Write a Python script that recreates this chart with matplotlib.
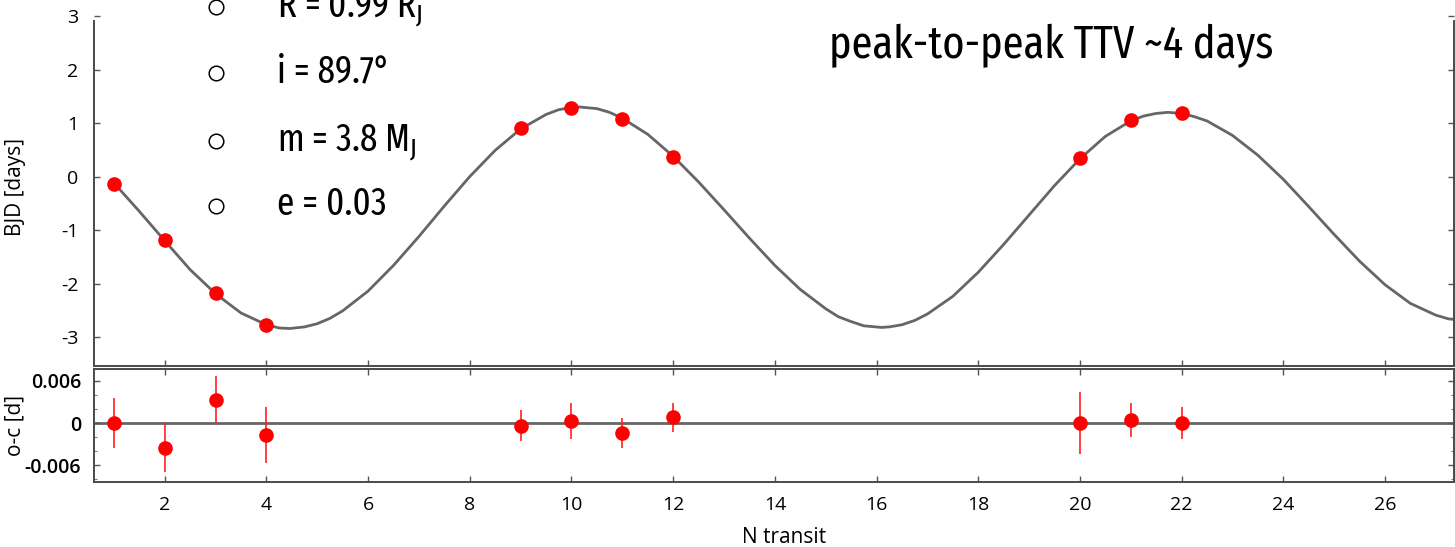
import numpy as np
import matplotlib
matplotlib.use("Agg")
import matplotlib.pyplot as plt
from matplotlib import font_manager
from matplotlib.font_manager import FontProperties
from matplotlib.ticker import MultipleLocator

# observed transits (top panel) and O-C residuals (bottom panel)
transit_n = [1, 2, 3, 4, 9, 10, 11, 12, 20, 21, 22]
bjd_ttv = [-0.14, -1.19, -2.17, -2.78, 0.90, 1.29, 1.07, 0.36, 0.34, 1.05, 1.18]
oc_resid = [0.0, -0.0035, 0.0033, -0.0017, -0.0004, 0.0003, -0.0014, 0.0008, 0.0, 0.0004, 0.0]
oc_err = [0.0035, 0.0035, 0.0033, 0.0040, 0.0022, 0.0026, 0.0021, 0.0021, 0.0044, 0.0024, 0.0022]

# model curve (denser near the turning points)
model_n = [1.0, 1.5, 2.0, 2.5, 3.0, 3.5, 4.0, 4.25, 4.46, 4.75,
           5.0, 5.25, 5.5, 6.0, 6.5, 7.0, 7.5, 8.0, 8.5, 9.0,
           9.5, 9.75, 10.0, 10.16, 10.5, 10.75, 11.0, 11.5, 12.0, 12.5,
           13.0, 13.5, 14.0, 14.5, 15.0, 15.25, 15.5, 15.75, 16.1, 16.25,
           16.5, 16.75, 17.0, 17.5, 18.0, 18.5, 19.0, 19.5, 20.0, 20.5,
           21.0, 21.25, 21.5, 21.73, 22.0, 22.25, 22.5, 23.0, 23.5, 24.0,
           24.5, 25.0, 25.5, 26.0, 26.5, 27.0, 27.25, 27.5]
model_ttv = [-0.12, -0.65, -1.20, -1.74, -2.19, -2.55, -2.77, -2.83, -2.84, -2.81,
             -2.75, -2.65, -2.51, -2.14, -1.66, -1.12, -0.55, 0.00, 0.49, 0.89,
             1.16, 1.25, 1.29, 1.30, 1.27, 1.20, 1.09, 0.79, 0.38, -0.10,
             -0.62, -1.15, -1.66, -2.11, -2.47, -2.62, -2.71, -2.79, -2.82, -2.81,
             -2.77, -2.69, -2.57, -2.24, -1.79, -1.27, -0.72, -0.17, 0.33, 0.75,
             1.04, 1.13, 1.18, 1.20, 1.18, 1.12, 1.04, 0.77, 0.40, -0.05,
             -0.56, -1.08, -1.58, -2.02, -2.37, -2.59, -2.66, -2.68]

params = ["R = 0.99 R$_\\mathregular{J}$", "i = 89.7°",
          "m = 3.8 M$_\\mathregular{J}$", "e = 0.03"]
headline = "peak-to-peak TTV ~4 days"


def condensed_font():
    """Pick the narrowest regular-weight face installed, else a plain sans."""
    best = None
    for f in font_manager.fontManager.ttflist:
        if f.style != "normal":
            continue
        key = (f.name + " " + f.fname).lower().replace(" ", "").replace("-", "")
        if "extracondensed" in key or "ultracondensed" in key:
            rank = 0
        elif "semicondensed" in key:
            rank = 2
        elif "condensed" in key or "narrow" in key or f.stretch == "condensed":
            rank = 1
        else:
            continue
        w = f.weight if isinstance(f.weight, int) else 400
        score = rank * 1000 + abs(w - 430)
        if best is None or score < best[0]:
            best = (score, f.fname)
    if best is not None:
        return FontProperties(fname=best[1])
    return FontProperties(family="Liberation Sans")


plt.rcParams.update({
    "font.family": ["Open Sans", "DejaVu Sans"],
    "axes.unicode_minus": False,
    "xtick.labelsize": 14,
    "ytick.labelsize": 14,
})

fig = plt.figure(figsize=(14.55, 5.47), dpi=100)
ax_top = fig.add_axes([0.0643, 0.330, 0.9347, 0.670])
ax_bot = fig.add_axes([0.0643, 0.1188, 0.9347, 0.2057], sharex=ax_top)

spine_col = "#4a4a4a"
for ax in (ax_top, ax_bot):
    for s in ax.spines.values():
        s.set_color(spine_col)
        s.set_linewidth(1.4)
    ax.tick_params(direction="in", length=4, width=1, color="#555555",
                   top=True, right=True)
    ax.tick_params(which="minor", direction="in", length=2.5, width=0.8,
                   color="#777777", right=True, left=True)

# top panel
ax_top.plot(model_n, model_ttv, color="#666666", linewidth=2.0, zorder=2)
ax_top.plot(transit_n, bjd_ttv, "o", color="#ff0000", markersize=9.5, zorder=3)
ax_top.set_xlim(0.6, 27.35)
ax_top.set_ylim(-3.55, 3.3)
ax_top.set_yticks([-3, -2, -1, 0, 1, 2, 3])
ax_top.spines["top"].set_visible(False)
ax_top.spines["left"].set_bounds(-3.55, 2.9)
ax_top.spines["right"].set_bounds(-3.55, 2.9)
ax_top.tick_params(axis="x", labelbottom=False, top=False)
ax_top.tick_params(axis="y", pad=11)
ax_top.set_ylabel("BJD [days]", fontsize=15)
ax_top.yaxis.set_label_coords(-0.050, 0.49)

# bottom panel
ax_bot.axhline(0, color="#666666", linewidth=2.0, zorder=1)
ax_bot.errorbar(transit_n, oc_resid, yerr=oc_err, fmt="o", color="#ff0000",
                ecolor="#ff2020", elinewidth=1.2, markersize=9.5, capsize=0, zorder=3)
ax_bot.set_ylim(-0.00837, 0.00759)
ax_bot.set_yticks([-0.006, 0, 0.006])
ax_bot.set_yticklabels(["-0.006", "0", "0.006"], fontweight="semibold", fontsize=14)
ax_bot.yaxis.set_minor_locator(MultipleLocator(0.002))
ax_bot.xaxis.set_major_locator(MultipleLocator(2))
ax_bot.tick_params(axis="y", pad=9)
ax_bot.tick_params(axis="x", pad=10)
ax_bot.set_ylabel("o-c [d]", fontsize=15)
ax_bot.yaxis.set_label_coords(-0.050, 0.5)
ax_bot.set_xlabel("N transit", fontsize=15)
ax_bot.xaxis.set_label_coords(0.508, -0.40)

# overlay annotations in a narrow face, sized to the widths seen in the original
fp = condensed_font()
title_txt = fig.text(0.5698, 0.894, headline, fontproperties=fp, fontsize=33,
                     va="baseline", ha="left")
base_y = [0.9707, 0.8501, 0.7258, 0.6069]
bullet_txts = []
for txt, yb in zip(params, base_y):
    t = fig.text(0.1904, yb, txt, fontproperties=fp, fontsize=26,
                 va="baseline", ha="left")
    bullet_txts.append(t)
    fig.add_artist(plt.Line2D([0.1485], [yb + 0.016], marker="o", markersize=10.5,
                              markerfacecolor="white", markeredgecolor="black",
                              markeredgewidth=1.1, transform=fig.transFigure))

renderer = fig.canvas.get_renderer()
w = title_txt.get_window_extent(renderer).width
title_txt.set_fontsize(33 * 444.0 / w)
w = bullet_txts[1].get_window_extent(renderer).width
for t in bullet_txts:
    t.set_fontsize(26 * 113.0 / w)

fig.savefig("out.png", dpi=100)
plt.close(fig)
